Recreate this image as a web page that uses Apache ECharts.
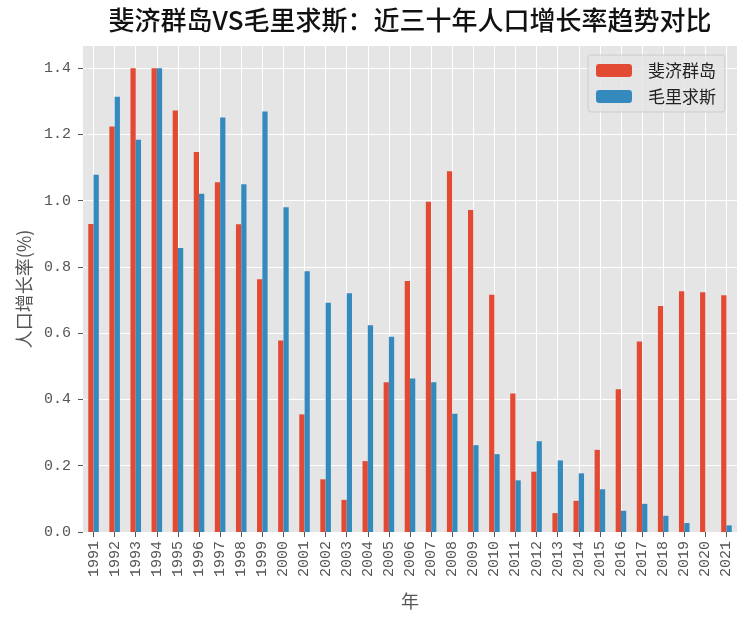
<!DOCTYPE html>
<html>
<head>
<meta charset="utf-8">
<script src="https://cdn.jsdelivr.net/npm/echarts@6/dist/echarts.min.js"></script>
<style>
html,body{margin:0;padding:0;background:#fff;}
#chart{width:750px;height:624px;}
</style>
</head>
<body>
<div id="chart"></div>
<script>
const years = ['1991','1992','1993','1994','1995','1996','1997','1998','1999','2000','2001','2002','2003','2004','2005','2006','2007','2008','2009','2010','2011','2012','2013','2014','2015','2016','2017','2018','2019','2020','2021'];
const fiji = [0.93,1.224,1.40,1.40,1.272,1.147,1.056,0.929,0.763,0.578,0.355,0.159,0.097,0.214,0.452,0.758,0.997,1.089,0.972,0.716,0.418,0.182,0.057,0.094,0.248,0.431,0.575,0.682,0.727,0.724,0.715];
const mauritius = [1.078,1.314,1.184,1.40,0.857,1.021,1.251,1.050,1.269,0.980,0.787,0.692,0.721,0.624,0.589,0.463,0.452,0.357,0.262,0.235,0.156,0.274,0.216,0.177,0.129,0.064,0.085,0.049,0.027,0,0.020];
const seriesNames = ['斐济群岛','毛里求斯'];
const titleText = '斐济群岛VS毛里求斯：近三十年人口增长率趋势对比';
const yName = '人口增长率(%)';
const xName = '年';

const FONT = '"Noto Sans CJK SC", "Noto Sans", sans-serif';
const NUMFONT = '"Liberation Mono", "DejaVu Sans Mono", monospace';
const chart = echarts.init(document.getElementById('chart'), null, {renderer: 'canvas'});
chart.setOption({
  backgroundColor: '#ffffff',
  animation: false,
  textStyle: {fontFamily: FONT},
  title: {
    text: titleText,
    left: 410, top: 7, padding: 0,
    textAlign: 'center',
    textStyle: {fontFamily: FONT, fontSize: 26, fontWeight: 500, color: '#111'}
  },
  legend: {
    orient: 'vertical',
    left: 588, top: 55,
    padding: [7, 9, 7, 8],
    itemWidth: 36, itemHeight: 13, itemGap: 9,
    backgroundColor: 'rgba(229,229,229,0.8)',
    borderColor: '#cccccc', borderWidth: 1, borderRadius: 3,
    textStyle: {fontFamily: FONT, fontSize: 17, color: '#222', padding: [0, 0, 0, 11]},
    data: seriesNames
  },
  grid: {left: 83, right: 13, top: 46, bottom: 92, show: true, backgroundColor: '#E5E5E5', borderWidth: 0},
  xAxis: {
    type: 'category',
    data: years,
    name: xName,
    nameLocation: 'middle',
    nameGap: 60,
    nameTextStyle: {fontFamily: FONT, fontSize: 18, color: '#555'},
    axisLine: {show: false},
    axisTick: {show: true, alignWithLabel: true, length: 5, lineStyle: {color: '#555'}},
    axisLabel: {rotate: 90, interval: 0, margin: 9, fontFamily: NUMFONT, fontSize: 15, color: '#555'},
    splitLine: {show: true, alignWithLabel: true, lineStyle: {color: '#ffffff', width: 1}}
  },
  yAxis: {
    type: 'value',
    min: 0, max: 1.467, interval: 0.2,
    name: yName,
    nameLocation: 'middle',
    nameGap: 45,
    nameTextStyle: {fontFamily: FONT, fontSize: 18, color: '#555'},
    axisLine: {show: false},
    axisTick: {show: true, length: 5, lineStyle: {color: '#555'}},
    axisLabel: {
      margin: 12, fontFamily: NUMFONT, fontSize: 15, color: '#555', showMaxLabel: false,
      formatter: v => (Math.abs(v / 0.2 - Math.round(v / 0.2)) < 1e-6) ? v.toFixed(1) : ''
    },
    splitLine: {show: true, showMaxLine: false, lineStyle: {color: '#ffffff', width: 1}}
  },
  series: [
    {name: seriesNames[0], type: 'bar', data: fiji, barWidth: '25%', barGap: '0%', itemStyle: {color: '#E24A33'}},
    {name: seriesNames[1], type: 'bar', data: mauritius, barWidth: '25%', barGap: '0%', itemStyle: {color: '#348ABD'}}
  ]
});
</script>
</body>
</html>
